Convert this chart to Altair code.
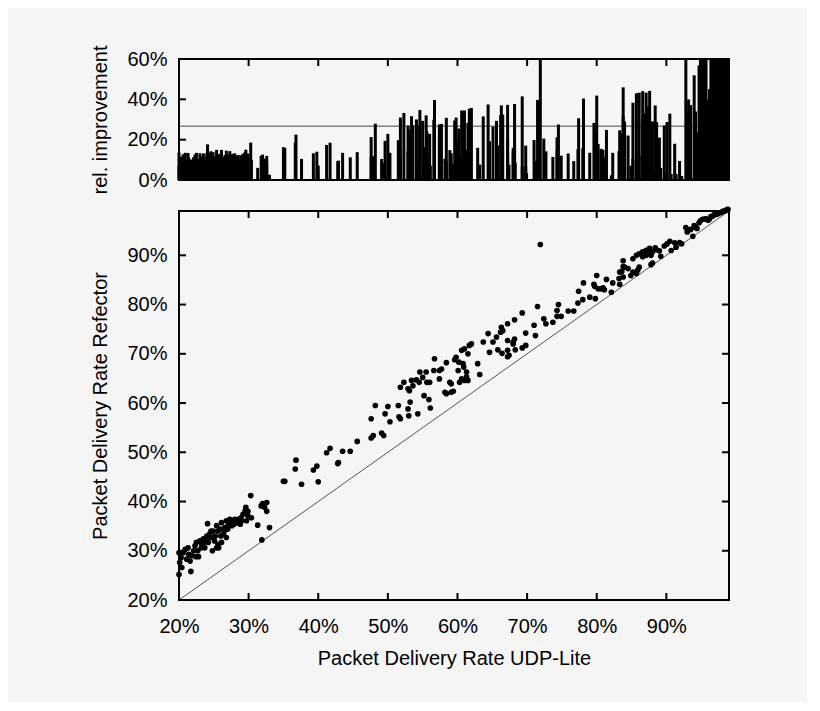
import altair as alt
import pandas as pd

# Packet delivery rate (percent) of UDP-Lite (x) and Refector (y), one pair per run
udp_pct = [
    20.0, 20.1, 20.0, 20.3, 20.9, 21.3, 21.1, 21.6, 21.7, 21.4, 22.1, 22.3, 22.5, 22.8, 23.0, 23.3,
    23.5, 23.7, 24.0, 24.2, 24.4, 24.7, 24.8, 24.9, 25.2, 25.4, 25.6, 25.6, 25.9, 26.1, 26.4, 26.6,
    26.8, 27.1, 27.3, 27.6, 27.8, 28.0, 28.3, 28.5, 28.8, 29.0, 29.2, 29.5, 29.7, 24.1, 20.4, 20.6,
    21.8, 22.7, 23.2, 23.6, 24.2, 24.6, 25.1, 25.7, 26.0, 26.5, 27.0, 27.5, 27.9, 28.4, 28.9, 22.4,
    25.4, 26.1, 26.8, 29.7, 29.9,
    30.3, 29.6, 29.9, 30.4, 32.0, 32.6, 32.3, 32.6, 31.8, 31.3, 33.0, 31.9, 35.0, 35.2, 36.8, 36.7,
    37.6, 39.3, 39.8, 40.0, 41.2, 41.7, 42.8, 42.9, 43.5, 44.6, 45.6,
    47.6, 47.9, 49.1, 49.4, 47.6, 48.2, 49.6, 50.0, 50.3, 51.5, 51.6, 51.8, 52.9, 53.2, 53.0, 54.3,
    55.9, 56.1, 55.2, 51.8, 52.3, 52.9, 53.1, 53.4, 53.6, 54.6, 54.1, 54.5, 55.0, 55.5, 55.6, 56.0,
    56.7, 56.6, 57.4, 57.7, 57.4, 58.4, 58.9, 59.1, 59.4, 58.2, 58.4, 59.1, 59.6, 59.8, 60.2, 60.1,
    60.6, 61.0, 61.5, 60.8, 60.9, 61.3, 61.3, 61.0, 61.5, 60.3, 60.6, 62.0, 61.7, 62.9, 63.2, 63.7,
    64.4, 65.1, 65.6, 64.6, 65.8,
    66.3, 66.5, 66.2, 67.2, 68.2, 69.3, 66.4, 67.2, 67.4, 67.2, 68.0, 68.2, 68.0, 68.3, 69.3, 69.8,
    67.2, 69.8, 71.0, 71.2, 71.9, 71.5, 72.4, 72.7, 73.7, 74.3, 74.5, 74.3, 74.9, 75.9, 76.7, 77.3,
    78.0, 79.0, 79.8, 77.4, 78.1, 79.6, 79.7, 80.2, 80.6, 81.1, 80.0, 81.4, 82.1, 82.3, 83.3, 83.3,
    83.8, 83.8, 83.8, 84.5, 80.9, 83.2, 84.0, 83.6, 84.9, 85.2, 85.7, 85.9, 86.1, 85.2, 85.7, 86.1,
    86.6, 87.1, 87.6, 88.0, 87.8, 86.6, 87.3, 87.1, 87.8, 88.0,
    86.8, 88.4, 88.6, 89.0, 89.2, 89.7, 90.1, 90.5, 90.7, 91.2, 91.4, 91.9, 92.2, 92.8, 93.0, 93.2,
    93.5, 93.8, 94.0, 94.2, 94.4, 94.7, 94.9, 95.2, 95.5, 95.7, 96.0, 96.2, 96.4, 96.7, 96.9, 97.1,
    97.3, 97.5, 97.7, 97.9, 98.1, 98.3, 98.5, 98.7, 98.85,
]
ref_pct = [
    29.6, 27.6, 25.2, 28.6, 30.3, 30.6, 28.3, 27.9, 25.8, 29.3, 30.0, 31.0, 31.7, 28.8, 32.0, 31.3,
    32.4, 30.6, 33.0, 31.7, 33.4, 32.7, 30.0, 34.0, 33.0, 35.1, 31.3, 34.0, 34.4, 35.7, 33.4, 34.7,
    36.1, 35.4, 36.4, 35.1, 36.1, 36.4, 35.7, 36.4, 35.4, 36.1, 37.4, 38.1, 37.8, 35.5, 26.6, 29.6,
    29.0, 30.0, 30.6, 31.7, 32.7, 34.0, 32.0, 30.6, 33.0, 34.0, 34.4, 35.7, 35.4, 36.1, 36.7, 28.8,
    30.6, 31.7, 32.7, 36.1, 37.1,
    41.2, 38.8, 38.0, 36.7, 39.6, 39.8, 38.8, 38.0, 39.1, 35.2, 34.7, 32.2, 44.1, 44.1, 48.4, 46.6,
    43.5, 46.4, 47.2, 44.0, 49.9, 50.8, 47.7, 47.9, 50.2, 50.2, 52.2,
    52.9, 53.4, 53.9, 53.4, 56.8, 59.5, 57.8, 59.3, 56.2, 59.5, 57.2, 56.8, 58.8, 60.2, 57.4, 57.8,
    60.7, 59.0, 61.5, 63.2, 64.2, 62.9, 62.5, 64.6, 63.5, 66.3, 64.7, 64.2, 65.2, 66.3, 64.2, 64.2,
    69.0, 66.6, 66.6, 66.9, 64.9, 68.2, 64.2, 63.9, 62.4, 62.2, 61.9, 62.2, 68.8, 69.3, 68.3, 66.6,
    70.7, 71.0, 70.0, 68.0, 67.3, 66.3, 65.3, 64.6, 64.6, 64.2, 64.9, 72.0, 71.7, 68.0, 65.8, 72.4,
    74.1, 72.4, 73.4, 70.3, 70.8,
    75.4, 74.7, 74.4, 76.1, 76.9, 78.3, 70.1, 70.7, 69.7, 69.4, 72.0, 73.0, 72.4, 70.8, 71.2, 71.7,
    72.7, 74.2, 75.8, 73.7, 92.2, 79.6, 77.1, 76.1, 76.4, 78.8, 80.0, 77.6, 77.6, 78.7, 78.7, 80.3,
    81.0, 81.5, 81.2, 82.7, 84.4, 84.1, 83.7, 83.2, 83.2, 83.0, 85.9, 85.1, 82.5, 84.4, 84.1, 86.6,
    87.7, 88.9, 85.6, 87.3, 83.4, 85.3, 87.6, 86.7, 85.9, 86.6, 86.3, 87.0, 87.6, 89.3, 90.0, 90.3,
    90.7, 91.0, 91.4, 90.7, 90.0, 89.7, 90.7, 90.0, 88.1, 88.4,
    90.08, 91.53, 91.14, 90.91, 89.81, 91.89, 92.31, 92.85, 90.97, 92.54, 91.65, 92.60, 92.35, 95.64, 94.76, 95.14,
    95.26, 93.86, 96.05, 95.67, 95.47, 96.62, 97.0, 97.33, 97.35, 97.39, 97.14, 97.38, 97.88, 98.0, 98.28, 98.29,
    98.36, 98.61, 98.65, 98.73, 98.94, 99.0, 99.09, 99.28, 99.32,
]
mean_improvement = [0.267]
x_ticks = [0.2, 0.3, 0.4, 0.5, 0.6, 0.7, 0.8, 0.9]
ref_ticks = [0.2, 0.3, 0.4, 0.5, 0.6, 0.7, 0.8, 0.9]
imp_ticks = [0.0, 0.2, 0.4, 0.6]

df = pd.DataFrame({"udp": [u / 100 for u in udp_pct], "ref": [r / 100 for r in ref_pct]})

FONT = "Liberation Sans"
BG = "#f5f5f5"
W, HT, HB = 550, 121, 389
TICK = 7

xs = alt.Scale(domain=[0.2, 0.99], nice=False, zero=False)
ys = alt.Scale(domain=[0.2, 0.99], nice=False, zero=False)
ims = alt.Scale(domain=[0.0, 0.6], nice=False, zero=False, clamp=True)

x_axis = alt.Axis(values=x_ticks, format=".0%", title="Packet Delivery Rate UDP-Lite",
                  ticks=False, tickSize=0, domain=False, grid=False, labelFlush=False,
                  labelPadding=16, titlePadding=12)
y_axis = alt.Axis(values=ref_ticks, format=".0%", title="Packet Delivery Rate Refector",
                  ticks=False, tickSize=0, domain=False, grid=False,
                  labelPadding=12, titlePadding=16)
im_axis = alt.Axis(values=imp_ticks, format=".0%", title="rel. improvement",
                   ticks=False, tickSize=0, domain=False, grid=False,
                   labelPadding=12, titlePadding=16)

X = alt.X("udp:Q", scale=xs, axis=x_axis)
Y = alt.Y("ref:Q", scale=ys, axis=y_axis)
XT = alt.X("udp:Q", scale=xs, axis=None)
IM = alt.Y("imp:Q", scale=ims, axis=im_axis)

tick_style = dict(color="black", strokeWidth=2)
xt_df = pd.DataFrame({"udp": x_ticks})
yt_df = pd.DataFrame({"ref": ref_ticks})
it_df = pd.DataFrame({"imp": imp_ticks})

# ---- bottom panel: scatter ----
diag = alt.Chart(pd.DataFrame({"udp": [0.2, 0.99], "ref": [0.2, 0.99]})).mark_line(
    color="#555555", strokeWidth=1).encode(x=X, y=Y)
pts = alt.Chart(df).mark_circle(size=32, color="black", opacity=1).encode(x=X, y=Y)
bx1 = alt.Chart(xt_df).mark_rule(**tick_style).encode(x=X, y=alt.value(HB), y2=alt.value(HB - TICK))
bx2 = alt.Chart(xt_df).mark_rule(**tick_style).encode(x=X, y=alt.value(0), y2=alt.value(TICK))
by1 = alt.Chart(yt_df).mark_rule(**tick_style).encode(y=Y, x=alt.value(0), x2=alt.value(TICK))
by2 = alt.Chart(yt_df).mark_rule(**tick_style).encode(y=Y, x=alt.value(W), x2=alt.value(W - TICK))
bottom = alt.layer(diag, pts, bx1, bx2, by1, by2).properties(width=W, height=HB)

# ---- top panel: relative improvement impulses ----
bars = alt.Chart(df).transform_calculate(
    imp="max(0, (datum.ref - datum.udp) / (1 - datum.ref))"
).mark_rule(color="black", strokeWidth=3).encode(x=XT, y=IM, y2=alt.datum(0))
mean_line = alt.Chart(pd.DataFrame({"imp": mean_improvement})).mark_rule(
    color="#444444", strokeWidth=1).encode(y=IM)
tx1 = alt.Chart(xt_df).mark_rule(**tick_style).encode(x=XT, y=alt.value(0), y2=alt.value(TICK))
tx2 = alt.Chart(xt_df).mark_rule(**tick_style).encode(x=XT, y=alt.value(HT), y2=alt.value(HT - TICK))
ty1 = alt.Chart(it_df).mark_rule(**tick_style).encode(y=IM, x=alt.value(0), x2=alt.value(TICK))
ty2 = alt.Chart(it_df).mark_rule(**tick_style).encode(y=IM, x=alt.value(W), x2=alt.value(W - TICK))
top = alt.layer(mean_line, bars, tx1, tx2, ty1, ty2).properties(width=W, height=HT)

chart = alt.vconcat(top, bottom, spacing=10).properties(
    background=BG,
    padding={"left": 81, "top": 36, "right": 75, "bottom": 33},
).configure_view(
    stroke="black", strokeWidth=2, fill=BG
).configure_axis(
    labelFont=FONT, titleFont=FONT, labelFontSize=20, titleFontSize=20,
    labelColor="black", titleColor="black", titleFontWeight="normal"
)

chart.save("out.html", embed_options={"renderer": "svg", "actions": False})
